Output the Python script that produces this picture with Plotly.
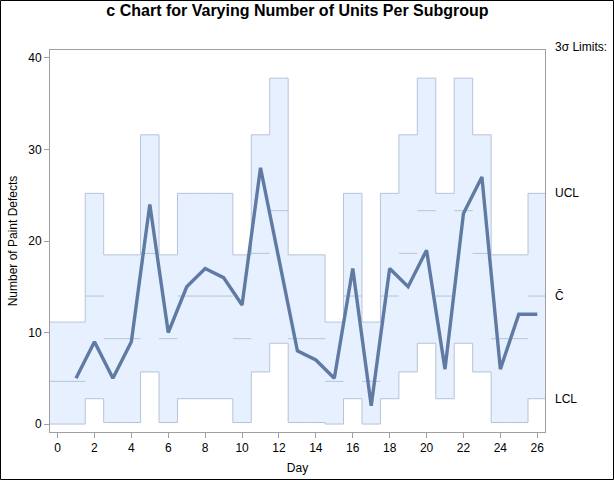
import math
import plotly.graph_objects as go

# ---- data ----
days = list(range(1, 27))
defects = [5, 9, 5, 9, 24, 10, 15, 17, 16, 13, 28, 18, 8, 7, 5, 17, 2, 17, 15, 19, 6, 23, 27, 6, 12, 12]
units = [1, 3, 2, 2, 4, 2, 3, 3, 3, 2, 4, 5, 2, 2, 1, 3, 1, 3, 4, 5, 3, 5, 4, 2, 2, 3]
x_ticks = list(range(0, 27, 2))
y_ticks = [0, 10, 20, 30, 40]
x_range = [-0.41, 26.42]
y_range = [-0.87, 40.87]

# ---- limits ----
ubar = sum(defects) / sum(units)
center = [ubar * n for n in units]
ucl = [c + 3 * math.sqrt(c) for c in center]
lcl = [max(0.0, c - 3 * math.sqrt(c)) for c in center]

# step boundaries
edges = [x_range[0]] + [d + 0.5 for d in days[:-1]] + [x_range[1]]
ucl_step = ucl + [ucl[-1]]
lcl_step = lcl + [lcl[-1]]

band_fill = "#E6F0FF"
band_line = "#B7C3D8"
data_line = "#5F7AA3"
axis_col = "#A0A0A0"
font = "Liberation Sans, Arial, sans-serif"

fig = go.Figure()
fig.add_trace(go.Scatter(x=edges, y=lcl_step, mode="lines", line=dict(shape="hv", color=band_line, width=1),
                         hoverinfo="skip", showlegend=False))
fig.add_trace(go.Scatter(x=edges, y=ucl_step, mode="lines", line=dict(shape="hv", color=band_line, width=1),
                         fill="tonexty", fillcolor=band_fill, hoverinfo="skip", showlegend=False))

# center line segments
cx, cy = [], []
for i, c in enumerate(center):
    cx += [edges[i], edges[i + 1], None]
    cy += [c, c, None]
fig.add_trace(go.Scatter(x=cx, y=cy, mode="lines", line=dict(color=band_line, width=1),
                         hoverinfo="skip", showlegend=False))

fig.add_trace(go.Scatter(x=days, y=defects, mode="lines", line=dict(color=data_line, width=3.4),
                         showlegend=False))

W, H = 614, 480
L, R, T, B = 50, 69, 50, 48
pw, ph = W - L - R, H - T - B

fig.add_shape(type="rect", xref="paper", yref="paper",
              x0=(0.5 - L) / pw, x1=(W - 0.5 - L) / pw,
              y0=-(B - 0.5) / ph, y1=1 + (T - 0.5) / ph,
              line=dict(color="black", width=1), layer="above")

ann = dict(xref="paper", x=1 + 8 / pw, xanchor="left", showarrow=False,
           font=dict(family=font, size=12, color="black"))
fig.add_annotation(text="3σ Limits:", yref="paper", y=1 + 3 / ph, yanchor="middle", **ann)
fig.add_annotation(text="UCL", yref="y", y=ucl[-1], yanchor="middle", **ann)
fig.add_annotation(text="C\u0304", yref="y", y=center[-1], yanchor="middle", **ann)
fig.add_annotation(text="LCL", yref="y", y=lcl[-1], yanchor="middle", **ann)

fig.update_layout(
    width=W, height=H,
    margin=dict(l=L, r=R, t=T, b=B, autoexpand=False),
    paper_bgcolor="white", plot_bgcolor="white",
    font=dict(family=font, size=12, color="black"),
    title=dict(text="<b>c Chart for Varying Number of Units Per Subgroup</b>",
               x=0.5, xref="paper", xanchor="center", y=1 - 10 / H, yanchor="middle",
               font=dict(family=font, size=16, color="black")),
    xaxis=dict(range=x_range, tickvals=x_ticks, ticks="outside", ticklen=5, tickcolor=axis_col,
               showline=True, linecolor=axis_col, mirror=True, showgrid=False, zeroline=False,
               automargin=False,
               title=dict(text="Day", standoff=9, font=dict(size=12)), tickfont=dict(size=12)),
    yaxis=dict(range=y_range, tickvals=y_ticks, ticks="outside", ticklen=5, tickcolor=axis_col,
               showline=True, linecolor=axis_col, mirror=True, showgrid=False, zeroline=False,
               automargin=False,
               title=dict(text="Number of Paint Defects", standoff=8, font=dict(size=12)),
               tickfont=dict(size=12)),
)

fig.write_html("out.html")
